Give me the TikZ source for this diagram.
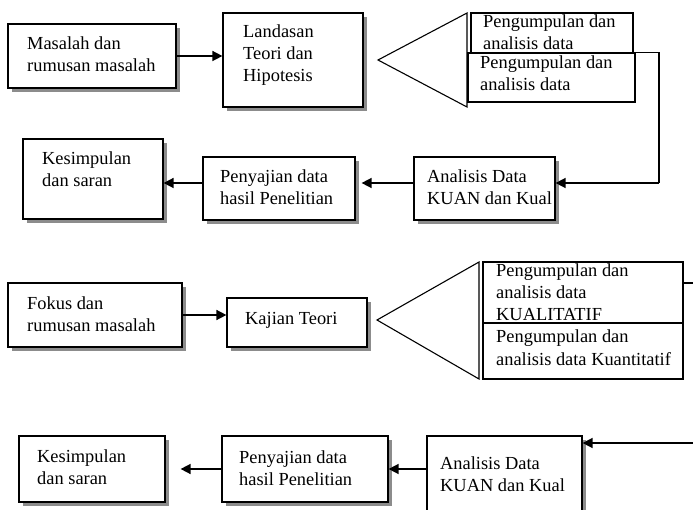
\documentclass[tikz,border=0pt]{standalone}
\usepackage{fontspec}
\setmainfont{Liberation Serif}
\usetikzlibrary{arrows.meta,shadows}
\begin{document}
\begin{tikzpicture}[x=1pt,y=-1pt,
  box/.style={draw=black,line width=1.2pt,fill=white,rectangle,inner sep=0pt,
     drop shadow={shadow xshift=4pt,shadow yshift=-4pt,fill=gray!90,opacity=1}},
  plainbox/.style={draw=black,line width=1.1pt,fill=white,rectangle,inner sep=0pt},
  txt/.style={anchor=base west,inner sep=0pt,align=left,font=\fontsize{18.4}{22}\selectfont},
  arr/.style={line width=1.5pt,-{Triangle[length=10pt,width=10pt]}},
  conn/.style={line width=1.5pt},
  tri/.style={line width=1.1pt}]
\clip (0,0) rectangle (693,510);
\fill[white] (0,0) rectangle (693,510);

% ---------- upper diagram ----------
% (text nodes are anchored at the baseline of their last line)
\node[box,minimum width=168pt,minimum height=64pt] (A) at (92,56) {};
\node[txt] (tA) at (27,72) {Masalah dan\\rumusan masalah};
\node[box,minimum width=140pt,minimum height=94pt] (B) at (293,60) {};
\node[txt] (tB) at (243,82) {Landasan\\Teori dan\\Hipotesis};

\coordinate (t1a) at (378,60);
\coordinate (t1b) at (467,13);
\coordinate (t1c) at (467,107);
\draw[tri] (t1a) -- (t1b) -- (t1c) -- cycle;

\node[plainbox,minimum width=162pt,minimum height=49pt] (C1) at (552,37.5) {};
\node[txt] (tC1) at (483,50) {Pengumpulan dan\\analisis data};
\node[plainbox,minimum width=167pt,minimum height=49pt] (C2) at (551.5,77.5) {};
\node[txt] (tC2) at (480,91) {Pengumpulan dan\\analisis data};

\node[box,minimum width=140pt,minimum height=80pt] (K1) at (93,179) {};
\node[txt] (tK1) at (42,187) {Kesimpulan\\dan saran};
\node[box,minimum width=152pt,minimum height=63pt] (P1) at (279,188.5) {};
\node[txt] (tP1) at (220,205) {Penyajian data\\hasil Penelitian};
\node[box,minimum width=141pt,minimum height=63pt] (N1) at (484.5,188.5) {};
\node[txt] (tN1) at (427,205) {Analisis Data\\KUAN dan Kual};

\coordinate (k1) at (659,183);
\draw[arr] (A.east) -- (A.east -| B.west);
\draw[conn] (C2.north east) -- (C2.north east -| k1) -- (k1);
\draw[arr] (k1) -- (k1 -| N1.east);
\draw[arr,shorten >=6pt] (N1.west |- k1) -- (P1.east |- k1);
\draw[arr] (P1.west |- k1) -- (K1.east |- k1);

% ---------- lower diagram ----------
\node[box,minimum width=174pt,minimum height=64pt] (F) at (95,315) {};
\node[txt] (tF) at (27,332) {Fokus dan\\rumusan masalah};
\node[box,minimum width=140pt,minimum height=49pt] (KT) at (297,322.5) {};
\node[txt] (tKT) at (245,325) {Kajian Teori};

\coordinate (t2a) at (377,320);
\coordinate (t2b) at (479,262);
\coordinate (t2c) at (479,379);
\draw[tri] (t2a) -- (t2b) -- (t2c) -- cycle;

\node[plainbox,minimum width=200pt,minimum height=68pt] (D1) at (583,296) {};
\node[txt] (tD1) at (496,321) {Pengumpulan dan\\analisis data\\KUALITATIF};
\node[plainbox,minimum width=200pt,minimum height=56pt] (D2) at (583,351) {};
\node[txt] (tD2) at (496,365) {Pengumpulan dan\\analisis data Kuantitatif};

\coordinate (e2) at (693,283);
\draw[conn] (D1.east |- e2) -- (e2);
\draw[arr] (F.east) -- (F.east -| KT.west);

\node[box,minimum width=146pt,minimum height=66pt] (K2) at (92,469) {};
\node[txt] (tK2) at (37,484) {Kesimpulan\\dan saran};
\node[box,minimum width=166pt,minimum height=66pt] (P2) at (305,469) {};
\node[txt] (tP2) at (239,485) {Penyajian data\\hasil Penelitian};
\node[box,minimum width=155pt,minimum height=94pt] (N2) at (504.5,483) {};
\node[txt] (tN2) at (440,491) {Analisis Data\\KUAN dan Kual};

\coordinate (e3) at (693,443);
\draw[arr] (e3) -- (e3 -| N2.east);
\draw[arr] (P2.east -| N2.west) -- (P2.east);
\draw[arr,shorten >=15pt] (P2.west) -- (K2.east);
\end{tikzpicture}
\end{document}
